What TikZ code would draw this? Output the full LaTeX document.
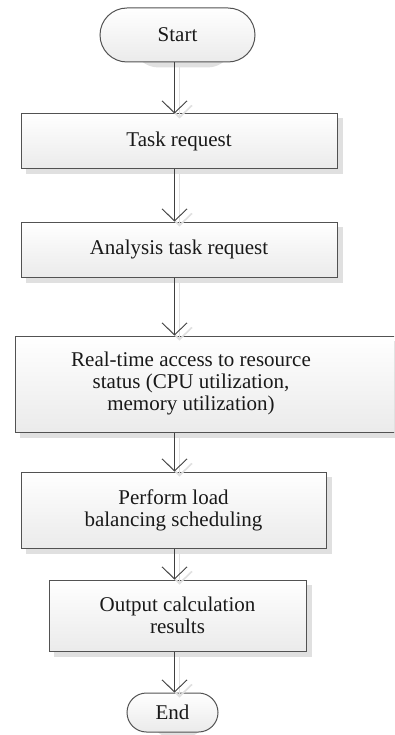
\documentclass[tikz,border=0pt]{standalone}
\usepackage{fontspec}
\setmainfont{Liberation Serif}
\usetikzlibrary{arrows.meta,shapes.misc,backgrounds}
\begin{document}
\begin{tikzpicture}[x=1pt,y=-1pt,
  base/.style={draw=black!68, line width=1pt, top color=white, bottom color=black!8,
    text=black!90, align=center, font=\fontsize{21}{22}\selectfont, inner sep=0pt},
  procbox/.style={base, rectangle},
  termbox/.style={base, rounded rectangle},
  shadowfill/.style={fill=black!12},
  conn/.style={draw=black!75, line width=0.9pt, -{Straight Barb[length=12pt,width=25pt]}},
  connshadow/.style={draw=black!12, line width=1.6pt, -{Straight Barb[length=12pt,width=25pt]},
    transform canvas={xshift=5pt,yshift=-5pt}},
  lbl/.style={text=black!90, align=center, font=\fontsize{21}{22}\selectfont, inner sep=0pt}]
\useasboundingbox (0,0) rectangle (394,735);
\clip (0,0) rectangle (394,735);
\coordinate (axis) at (174.5,0);
\node[termbox, minimum width=155pt, minimum height=54pt] (start) at (177.5,35) {Start};
\node[procbox, minimum width=316pt, minimum height=55pt] (task) at (179,141.5) {Task request};
\node[procbox, minimum width=316pt, minimum height=55pt] (ana) at (179,249.5) {Analysis task request};
\node[procbox, minimum width=400pt, minimum height=96pt] (rt) at (215,384) {};
\node[lbl] (rttext) at (191,383) {Real-time access to resource\\status (CPU utilization,\\memory utilization)};
\node[procbox, minimum width=305pt, minimum height=76pt] (perf) at (173.5,510) {Perform load\\balancing scheduling};
\node[procbox, minimum width=257pt, minimum height=71pt] (out) at (177.5,615.5) {Output calculation\\results};
\node[termbox, minimum width=91pt, minimum height=39pt] (stop) at (172.5,712.5) {End};
\begin{scope}[on background layer]
  \foreach \n in {task, ana, rt, perf, out}{
    \fill[shadowfill] ([shift={(5.5,5)}]\n.north west) rectangle ([shift={(5.5,5)}]\n.south east);
  }
  \fill[shadowfill, rounded corners=26pt] ([shift={(5.5,5)}]start.north west) rectangle ([shift={(5.5,5)}]start.south east);
  \fill[shadowfill, rounded corners=19pt] ([shift={(5.5,5)}]stop.north west) rectangle ([shift={(5.5,5)}]stop.south east);
\end{scope}
\foreach \a/\b in {start/task, task/ana, ana/rt, rt/perf, perf/out, out/stop}{
  \draw[connshadow] (\a.south -| axis) -- (\b.north -| axis);
}
\foreach \a/\b in {start/task, task/ana, ana/rt, rt/perf, perf/out, out/stop}{
  \draw[conn] (\a.south -| axis) -- (\b.north -| axis);
}
\end{tikzpicture}
\end{document}
